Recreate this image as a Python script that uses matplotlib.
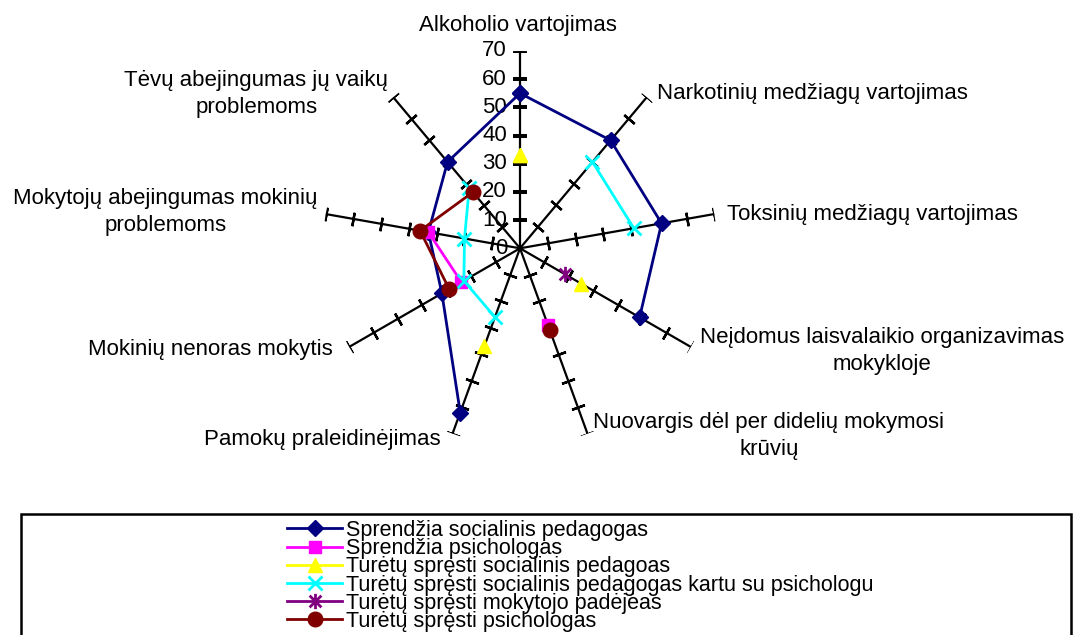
import matplotlib
matplotlib.use("Agg")
import matplotlib.pyplot as plt
import numpy as np
from matplotlib.patches import Rectangle
from matplotlib.path import Path

plt.rcParams["font.family"] = ["Liberation Sans", "DejaVu Sans"]

# Categories, clockwise from the top
categories = [
    "Alkoholio vartojimas",
    "Narkotinių medžiagų vartojimas",
    "Toksinių medžiagų vartojimas",
    "Neįdomus laisvalaikio organizavimas\nmokykloje",
    "Nuovargis dėl per didelių mokymosi\nkrūvių",
    "Pamokų praleidinėjimas",
    "Mokinių nenoras mokytis",
    "Mokytojų abejingumas mokinių\nproblemoms",
    "Tėvų abejingumas jų vaikų\nproblemoms",
]

nan = np.nan
socped = [55, 50, 51, 49, nan, 62, 32, 33, 40]
psich = [nan, nan, nan, nan, 29, nan, 24, 33, nan]
tur_socped = [33, nan, nan, 25, nan, 37, nan, nan, nan]
tur_kartu = [nan, 40, 41, nan, nan, 26, 23, 20, 28]
tur_padejejas = [nan, nan, nan, 18.5, nan, nan, nan, nan, nan]
tur_psich = [nan, nan, nan, nan, 31, nan, 29, 36, 26]

series_names = [
    "Sprendžia socialinis pedagogas",
    "Sprendžia psichologas",
    "Turėtų spręsti socialinis pedagoas",
    "Turėtų spręsti socialinis pedagogas kartu su psichologu",
    "Turėtų spręsti mokytojo padėjėas",
    "Turėtų spręsti psichologas",
]

r_ticks = [0, 10, 20, 30, 40, 50, 60, 70]

# x with a vertical bar, like the spreadsheet "star" marker
star_path = Path(
    [(-1, -1), (1, 1), (-1, 1), (1, -1), (0, -1.3), (0, 1.3)],
    [Path.MOVETO, Path.LINETO, Path.MOVETO, Path.LINETO, Path.MOVETO, Path.LINETO],
)

styles = [
    dict(color="#000080", marker="D", ms=8.5),
    dict(color="#FF00FF", marker="s", ms=8.5),
    dict(color="#FFFF00", marker="^", ms=10),
    dict(color="#00FFFF", marker="x", ms=10, mew=2),
    dict(color="#800080", marker=star_path, ms=11, mew=2),
    dict(color="#800000", marker="o", ms=10.5),
]

W, H = 1074, 635
fig = plt.figure(figsize=(W / 100, H / 100), dpi=100)
cx, cy, R = 520, 635 - 248.3, 197.3
ax = fig.add_axes([(cx - R) / W, (cy - R) / H, 2 * R / W, 2 * R / H], projection="polar")
ax.set_theta_zero_location("N")
ax.set_theta_direction(-1)
ax.set_ylim(0, 70)
ax.set_xticks([])
ax.set_yticks([])
ax.grid(False)
ax.spines["polar"].set_visible(False)
ax.patch.set_visible(False)

n = len(categories)
angles = np.arange(n) * 2 * np.pi / n

# spokes with cross ticks every 10
for a in angles:
    ax.plot([a, a], [0, 70], color="black", lw=1.6, zorder=1, solid_capstyle="butt")
    rot = 90 - np.degrees(a)
    ax.plot([a] * 7, r_ticks[1:], ls="none", marker=(2, 2, rot), ms=9.8,
            mew=1.7, color="black", zorder=1)

for r in r_ticks:
    ax.annotate(str(r), xy=(0, r), xytext=(-13, 0), textcoords="offset pixels",
                ha="right", va="center", fontsize=16)

# category labels
label_pos = [
    ((-2, 26), "center"),
    ((10, 4), "left"),
    ((13, 0), "left"),
    ((9, -4), "left"),
    ((6, -2), "left"),
    ((-12, -6), "right"),
    ((-16, -3), "right"),
    ((-8, 2), "right"),
    ((-5, 3), "right"),
]
for a, name, (off, ha) in zip(angles, categories, label_pos):
    ax.annotate(name, xy=(a, 70), xytext=off, textcoords="offset pixels",
                ha=ha, va="center", multialignment="center", fontsize=16,
                linespacing=1.35, annotation_clip=False)

theta = np.append(angles, 2 * np.pi)
all_series = [socped, psich, tur_socped, tur_kartu, tur_padejejas, tur_psich]
handles = []
for vals, name, st in zip(all_series, series_names, styles):
    v = np.append(vals, vals[0])
    st = dict(st)
    color = st.pop("color")
    line, = ax.plot(theta, v, color=color, lw=2, mfc=color, mec=color,
                    zorder=3, clip_on=False, label=name, **st)
    handles.append(line)

fig.legend(handles, series_names, loc="upper left",
           bbox_to_anchor=(287 / W, 1 - 520 / H), frameon=False, fontsize=15.5,
           handlelength=2.56, handletextpad=0.2, labelspacing=-0.13,
           borderpad=0, borderaxespad=0)

fig.patches.append(Rectangle((21 / W, -0.1), (1071 - 21) / W, (635 - 514) / H + 0.1,
                             transform=fig.transFigure, fill=False, lw=1.8,
                             ec="black"))

fig.savefig("out.png", dpi=100)
